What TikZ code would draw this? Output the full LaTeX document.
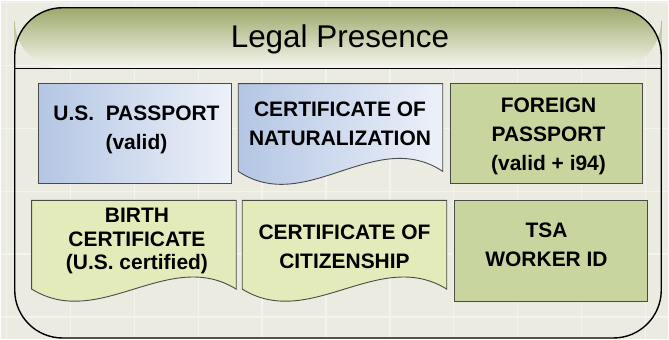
\documentclass[tikz,border=0pt]{standalone}
\usepackage{fontspec}
\setmainfont{Liberation Sans}
\usepackage{xcolor}
\usepackage{tikz}

\definecolor{bgtint}{HTML}{EBEBE1}
\definecolor{gridtint}{HTML}{F4F4EE}
\definecolor{headtop}{HTML}{9DA96C}
\definecolor{headbot}{HTML}{F7F7F0}
\definecolor{passblue}{HTML}{B4C6E4}
\definecolor{passpale}{HTML}{EDF1F9}
\definecolor{idgreen}{HTML}{C9D59E}
\definecolor{certpale}{HTML}{E3EBBB}
\definecolor{boxline}{HTML}{4A4A4A}

\begin{document}
\begin{tikzpicture}[x=1pt, y=-1pt,
    docline/.style={draw=boxline, line width=0.9pt},
    bluedoc/.style={docline, left color=passblue, right color=passpale},
    greendoc/.style={docline, fill=idgreen},
    paledoc/.style={docline, fill=certpale},
    doctext/.style={font=\bfseries\fontsize{21}{29}\selectfont, align=center, inner sep=0pt}]
    % Background with faint grid
    \fill[bgtint] (0,0) rectangle (669,339);
    \foreach \gx in {6,70,...,646}
        \draw[gridtint, line width=1.5pt] (\gx,0) -- (\gx,339);
    \foreach \gy in {2,65,...,317}
        \draw[gridtint, line width=1.5pt] (0,\gy) -- (669,\gy);
    \useasboundingbox (0,0) rectangle (669,339);

    % Container and header
    \shade[top color=headtop, bottom color=headbot, rounded corners=48pt]
        (14,68) -- (14,7) -- (662,7) -- (662,68) -- cycle;
    \draw[line width=1.4pt, rounded corners=48pt] (14,7) rectangle (662,338);
    \draw[line width=1.4pt] (14,68) -- (662,68);
    \node[font=\fontsize{31.5}{36}\selectfont, anchor=base, inner sep=0pt] (title) at (340,47) {Legal Presence};

    % First row
    \shade[bluedoc] (38,83) rectangle (231,183);
    \shade[bluedoc] (238,83) -- (443,83) -- (443,171)
        .. controls (375,126) and (306,216) .. (238,171) -- cycle;
    \filldraw[greendoc] (451,83) rectangle (643,183);

    % Second row
    \filldraw[paledoc] (31,200) -- (236,200) -- (236,289)
        .. controls (168,247) and (99,331) .. (31,289) -- cycle;
    \filldraw[paledoc] (242,200) -- (447,200) -- (447,289)
        .. controls (379,247) and (310,331) .. (242,289) -- cycle;
    \filldraw[greendoc] (455,200) rectangle (648,301);

    % Labels
    \node[doctext] (usPass) at (136,129) {U.S.\ \ PASSPORT\\(valid)};
    \node[doctext] (natCert) at (340,123.5) {CERTIFICATE OF\\NATURALIZATION};
    \node[doctext] (forPass) at (549,135.5) {FOREIGN\\PASSPORT\\(valid + i94)};
    \node[doctext, font=\bfseries\fontsize{21}{23.5}\selectfont] (birthCert) at (136.5,241) {BIRTH\\CERTIFICATE\\(U.S. certified)};
    \node[doctext] (citCert) at (344.5,246.5) {CERTIFICATE OF\\CITIZENSHIP};
    \node[doctext] (tsaId) at (547,245) {TSA\\WORKER ID};
\end{tikzpicture}
\end{document}
